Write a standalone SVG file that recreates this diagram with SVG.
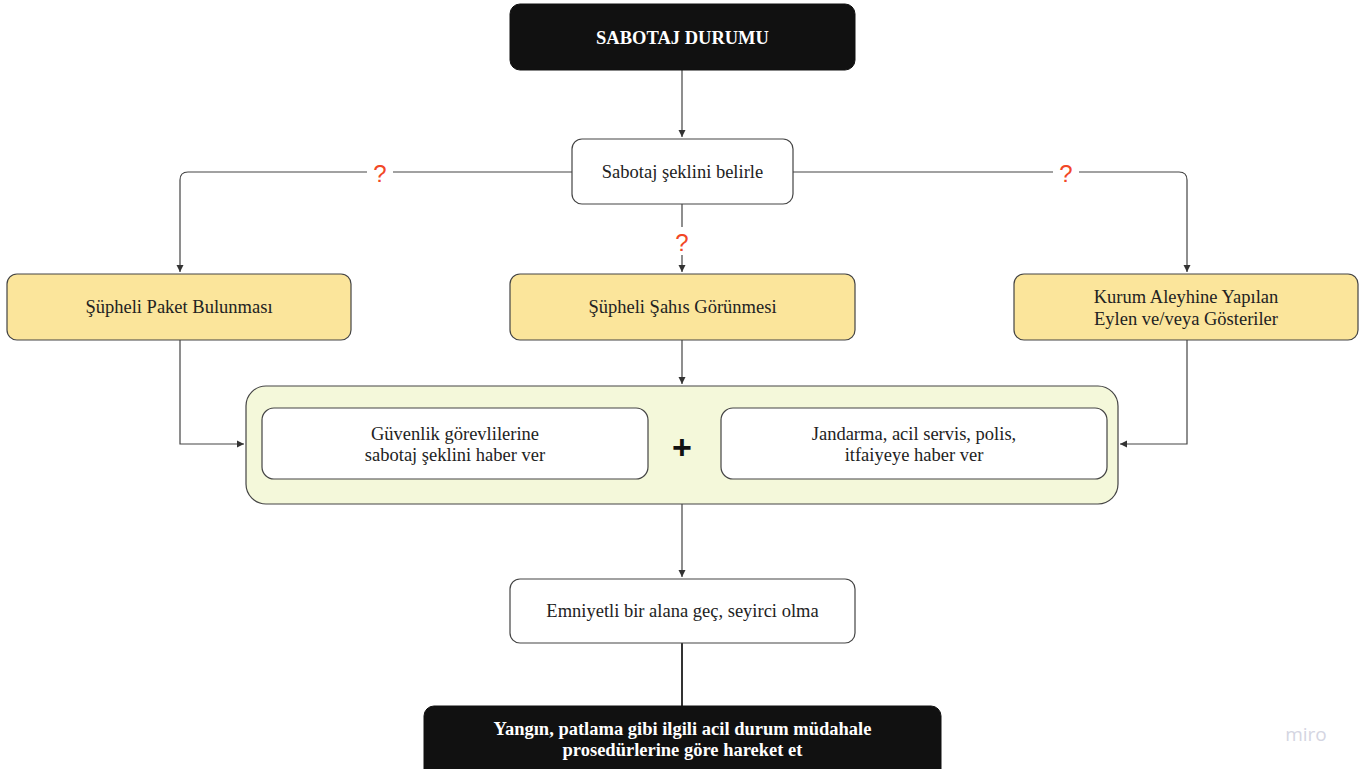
<svg xmlns="http://www.w3.org/2000/svg" width="1367" height="769" viewBox="0 0 1367 769">
<defs>
<marker id="ah" markerWidth="10" markerHeight="10" refX="8" refY="5" orient="auto" markerUnits="userSpaceOnUse">
<path d="M1,1.5 L8,5 L1,8.5 Z" fill="#333"/>
</marker>
<style>
.dark{fill:#111;stroke:#111;stroke-width:1}
.white{fill:#fff;stroke:#444;stroke-width:1.2}
.yellow{fill:#fbe59b;stroke:#444;stroke-width:1.2}
.group{fill:#f4f8da;stroke:#444;stroke-width:1.2}
.t{font-family:"Liberation Serif","Times New Roman",serif;font-size:18.5px;fill:#222;text-anchor:middle}
.tb{font-family:"Liberation Serif","Times New Roman",serif;font-size:18.5px;font-weight:bold;fill:#fff;text-anchor:middle}
.q{font-family:"Liberation Sans",Arial,sans-serif;font-size:24px;fill:#f24726;text-anchor:middle}
.c{fill:none;stroke:#444;stroke-width:1.2}
</style>
</defs>
<rect width="1367" height="769" fill="#fff"/>
<g id="connectors">
<path class="c" d="M682,70 V137" marker-end="url(#ah)"/>
<path class="c" d="M572,172 H188 Q180,172 180,180 V272" marker-end="url(#ah)"/>
<path class="c" d="M793,172 H1179 Q1187,172 1187,180 V272" marker-end="url(#ah)"/>
<path class="c" d="M682,204 V272" marker-end="url(#ah)"/>
<path class="c" d="M180,340 V444 H244" marker-end="url(#ah)"/>
<path class="c" d="M1187,340 V444 H1120" marker-end="url(#ah)"/>
<path class="c" d="M682,340 V384" marker-end="url(#ah)"/>
<path class="c" d="M682,504 V577" marker-end="url(#ah)"/>
<path d="M682,643 V707" fill="none" stroke="#333" stroke-width="2"/>
<rect x="367" y="158" width="26" height="28" fill="#fff"/>
<text class="q" x="380" y="182">?</text>
<rect x="1053" y="158" width="26" height="28" fill="#fff"/>
<text class="q" x="1066" y="182">?</text>
<rect x="669" y="227" width="26" height="28" fill="#fff"/>
<text class="q" x="682" y="251">?</text>
</g>
<g id="n-start">
<rect class="dark" x="510" y="4" width="345" height="66" rx="10"/>
<text class="tb" x="682.5" y="44">SABOTAJ DURUMU</text>
</g>
<g id="n-determine">
<rect class="white" x="572" y="139" width="221" height="65" rx="10"/>
<text class="t" x="682.5" y="178">Sabotaj şeklini belirle</text>
</g>
<g id="n-package">
<rect class="yellow" x="7" y="274" width="344" height="66" rx="10"/>
<text class="t" x="179" y="313">Şüpheli Paket Bulunması</text>
</g>
<g id="n-person">
<rect class="yellow" x="510" y="274" width="345" height="66" rx="10"/>
<text class="t" x="682.5" y="313">Şüpheli Şahıs Görünmesi</text>
</g>
<g id="n-protest">
<rect class="yellow" x="1014" y="274" width="344" height="66" rx="10"/>
<text class="t" x="1186" y="303">Kurum Aleyhine Yapılan</text>
<text class="t" x="1186" y="325">Eylen ve/veya Gösteriler</text>
</g>
<g id="n-group">
<rect class="group" x="246" y="386" width="872" height="118" rx="20"/>
<text x="682" y="459" font-family="Liberation Sans,Arial,sans-serif" font-size="34" font-weight="bold" fill="#111" text-anchor="middle">+</text>
</g>
<g id="n-security">
<rect class="white" x="262" y="408" width="386" height="71" rx="12"/>
<text class="t" x="455" y="440">Güvenlik görevlilerine</text>
<text class="t" x="455" y="461">sabotaj şeklini haber ver</text>
</g>
<g id="n-police">
<rect class="white" x="721" y="408" width="386" height="71" rx="12"/>
<text class="t" x="914" y="440">Jandarma, acil servis, polis,</text>
<text class="t" x="914" y="461">itfaiyeye haber ver</text>
</g>
<g id="n-safe">
<rect class="white" x="510" y="579" width="345" height="64" rx="10"/>
<text class="t" x="682.5" y="617">Emniyetli bir alana geç, seyirci olma</text>
</g>
<g id="n-end">
<rect class="dark" x="424" y="706" width="517" height="75" rx="10"/>
<text class="tb" x="682.5" y="735">Yangın, patlama gibi ilgili acil durum müdahale</text>
<text class="tb" x="682.5" y="756">prosedürlerine göre hareket et</text>
</g>
<text x="1306" y="741" font-family="'Open Sans','Liberation Sans',sans-serif" font-size="19" fill="#d4d5e2" text-anchor="middle">miro</text>
</svg>
